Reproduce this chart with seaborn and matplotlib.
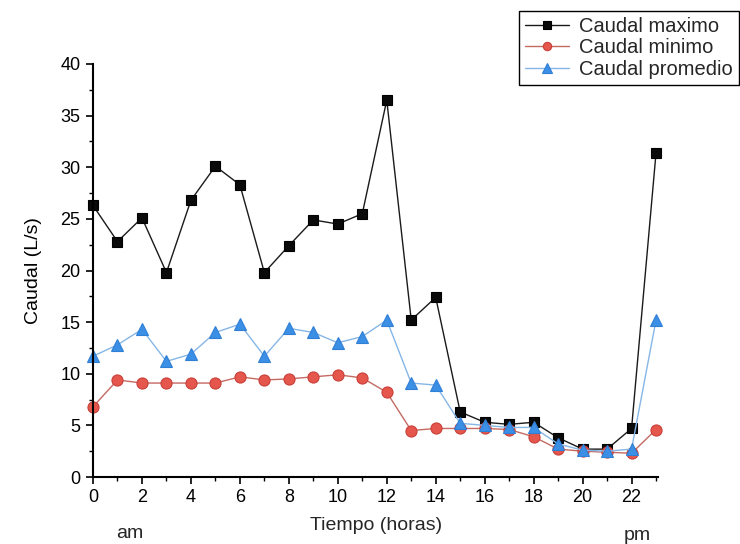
import numpy as np
import pandas as pd
import matplotlib
matplotlib.use("Agg")
import matplotlib.pyplot as plt
from matplotlib.ticker import MultipleLocator
import seaborn as sns

# Hourly flow data (L/s)
horas = list(range(24))
caudal_maximo = [26.3, 22.8, 25.1, 19.8, 26.8, 30.1, 28.3, 19.8, 22.4, 24.9, 24.5, 25.5,
                 36.5, 15.2, 17.4, 6.3, 5.3, 5.1, 5.3, 3.8, 2.7, 2.7, 4.7, 31.4]
caudal_minimo = [6.8, 9.4, 9.1, 9.1, 9.1, 9.1, 9.7, 9.4, 9.5, 9.7, 9.9, 9.6,
                 8.2, 4.5, 4.7, 4.7, 4.7, 4.6, 3.9, 2.7, 2.5, 2.4, 2.3, 4.6]
caudal_promedio = [11.7, 12.8, 14.3, 11.2, 11.9, 14.0, 14.8, 11.7, 14.4, 14.0, 13.0, 13.6,
                   15.2, 9.1, 8.9, 5.2, 5.0, 4.8, 4.8, 3.2, 2.6, 2.5, 2.7, 15.2]
series_names = ["Caudal maximo", "Caudal minimo", "Caudal promedio"]
x_ticks = list(range(0, 23, 2))
y_ticks = list(range(0, 41, 5))

sns.set_theme(style="ticks")
plt.rcParams["font.family"] = ["Liberation Sans", "DejaVu Sans"]

fig = plt.figure(figsize=(7.4, 5.44), dpi=100)
ax = fig.add_axes([93 / 740, 1 - 477 / 544, (658 - 93) / 740, (477 - 64) / 544])

styles = [
    dict(values=caudal_maximo, marker="s", line="#1a1a1a", face="#0a0a0a", edge="#000000", ms=7.5),
    dict(values=caudal_minimo, marker="o", line="#c46a62", face="#e5564c", edge="#c9403a", ms=8),
    dict(values=caudal_promedio, marker="^", line="#86b6e6", face="#3b8fe5", edge="#2f7fd6", ms=9),
]

for name, st in zip(series_names, styles):
    sns.lineplot(x=horas, y=st["values"], ax=ax, color=st["line"], linewidth=1.0,
                 marker=st["marker"], markersize=st["ms"], markerfacecolor=st["face"],
                 markeredgecolor=st["edge"], markeredgewidth=0.8, label=name,
                 clip_on=False, legend=False)

ax.set_xlim(0, 23.08)
ax.set_ylim(0, 40)
ax.set_xticks(x_ticks)
ax.set_yticks(y_ticks)
ax.xaxis.set_minor_locator(MultipleLocator(1))
ax.yaxis.set_minor_locator(MultipleLocator(2.5))
ax.tick_params(axis="both", which="major", direction="out", length=5, width=1.2,
               labelsize=13, color="black", labelcolor="black", pad=4)
ax.tick_params(axis="both", which="minor", direction="out", length=3, width=1.0, color="black")

for side in ["top", "right"]:
    ax.spines[side].set_visible(False)
for side in ["left", "bottom"]:
    ax.spines[side].set_linewidth(1.5)
    ax.spines[side].set_color("black")

ax.set_ylabel("Caudal (L/s)", fontsize=14, color="black", labelpad=13)
ax.set_xlabel("")
fig.text(376 / 740, 1 - 525 / 544, "Tiempo (horas)", ha="center", va="center", fontsize=14)
fig.text(130 / 740, 1 - 534 / 544, "am", ha="center", va="center", fontsize=14)
fig.text(637 / 740, 1 - 536 / 544, "pm", ha="center", va="center", fontsize=14)

handles, labels = ax.get_legend_handles_labels()
leg = fig.legend(handles, labels, loc="upper right",
                 bbox_to_anchor=(739 / 740, 1 - 11 / 544), fontsize=14.5,
                 frameon=True, fancybox=False, edgecolor="black", framealpha=1,
                 handlelength=2.2, handletextpad=0.5, borderpad=0.3, labelspacing=0.12,
                 borderaxespad=0, markerscale=0.75)
leg.get_frame().set_linewidth(1.0)

fig.savefig("out.png", dpi=100, facecolor="white")
